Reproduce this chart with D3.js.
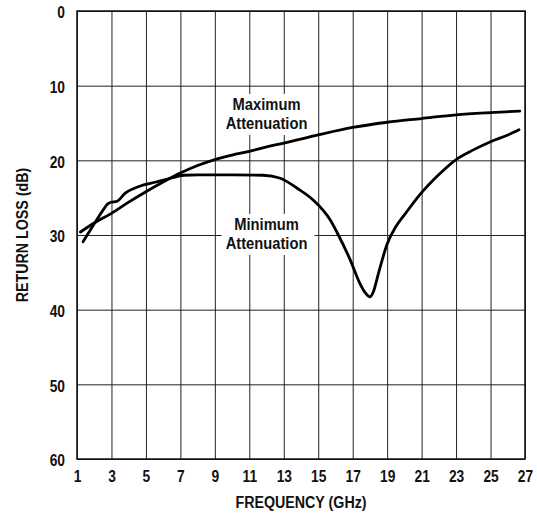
<!DOCTYPE html>
<html>
<head>
<meta charset="utf-8">
<script src="https://cdn.jsdelivr.net/npm/d3@7"></script>
<style>
  body { margin: 0; background: #fff; }
  text { font-family: "Liberation Sans", Arial, sans-serif; font-weight: bold; fill: #111; }
</style>
</head>
<body>
<div id="root"></div>
<script>

// frequency (GHz) / return loss (dB)
let maxFreq = [1.2, 2, 3, 4, 5, 6, 7, 8, 9, 10, 11, 12, 13, 15, 17, 19, 21, 23, 25, 26.7]
let maxLoss = [29.6, 28.4, 27.1, 25.6, 24.2, 22.9, 21.7, 20.7, 19.9, 19.3, 18.8, 18.2, 17.7, 16.6, 15.6, 14.9, 14.4, 13.9, 13.6, 13.4]

let minFreq = [1.35, 2, 2.5, 2.8, 3.0, 3.3, 3.8, 4.6, 5.6, 6.4, 7.2, 8, 10, 11.8, 12.8, 13.75, 14.7, 15.7, 16.1, 16.85, 17.4, 17.75, 18.0, 18.2, 18.5, 19.0, 19.5, 20.1, 20.9, 22.05, 23.0, 24.0, 25.0, 26.0, 26.65]
let minLoss = [30.9, 28.5, 26.7, 25.8, 25.6, 25.5, 24.4, 23.5, 22.9, 22.4, 22.0, 21.95, 21.95, 22.0, 22.4, 23.7, 25.3, 28.0, 29.7, 33.3, 36.4, 37.8, 38.3, 37.6, 35.1, 31.2, 28.9, 27.0, 24.6, 21.8, 19.9, 18.6, 17.5, 16.6, 15.9]

let xTicks = d3.range(1, 28, 2)
let yTicks = d3.range(0, 61, 10)

let labels = [
  {lines: ["Maximum", "Attenuation"], f: 12, db: 13.66},
  {lines: ["Minimum", "Attenuation"], f: 12, db: 29.73}
]

let width = 537, height = 521
let pLeft = 77, pTop = 11, pRight = 525, pBottom = 459

var svg = d3.select('#root').append('svg')
            .attr('width', width)
            .attr('height', height);

var x = d3.scaleLinear().domain([1, 27]).range([pLeft, pRight]);
var y = d3.scaleLinear().domain([0, 60]).range([pTop, pBottom]);

// squeeze text a bit, the original uses a condensed face
function condense(sel, k) {
  sel.each(function () {
    let w = this.getComputedTextLength();
    d3.select(this).attr('textLength', w * k).attr('lengthAdjust', 'spacingAndGlyphs');
  });
}

// grid + tick labels
svg.append('g')
   .attr('transform', 'translate(0,' + pBottom + ')')
   .call(d3.axisBottom(x).tickValues(xTicks).tickSize(-(pBottom - pTop)).tickPadding(12).tickFormat(d3.format('d')))
   .call(g => g.select('.domain').remove())
   .call(g => g.selectAll('line').attr('stroke', '#222').attr('stroke-width', 1))
   .call(g => g.selectAll('text').attr('font-size', 16).attr('font-family', null).call(condense, 0.86));

svg.append('g')
   .attr('transform', 'translate(' + pLeft + ',0)')
   .call(d3.axisLeft(y).tickValues(yTicks).tickSize(-(pRight - pLeft)).tickPadding(12))
   .call(g => g.select('.domain').remove())
   .call(g => g.selectAll('line').attr('stroke', '#222').attr('stroke-width', 1))
   .call(g => g.selectAll('text').attr('font-size', 16).attr('dy', '0.42em').attr('font-family', null).call(condense, 0.86));

// white boxes behind the curve labels
var lab = svg.selectAll('.lab')
             .data(labels)
             .enter().append('g')
             .attr('class', 'lab')
             .attr('transform', d => 'translate(' + x(d.f) + ',' + y(d.db) + ')');

lab.append('rect')
   .attr('x', -45).attr('y', -19)
   .attr('width', 93).attr('height', 41)
   .attr('fill', '#fff');

lab.selectAll('text')
   .data(d => d.lines)
   .enter().append('text')
   .attr('text-anchor', 'middle')
   .attr('font-size', 16)
   .attr('y', (d, i) => i * 19 - 3)
   .text(d => d)
   .call(condense, 0.92);

// frame
svg.append('rect')
   .attr('x', pLeft).attr('y', pTop)
   .attr('width', pRight - pLeft).attr('height', pBottom - pTop)
   .attr('fill', 'none')
   .attr('stroke', '#111')
   .attr('stroke-width', 1.5);

// curves
var line = d3.line()
             .x(d => x(d[0]))
             .y(d => y(d[1]))
             .curve(d3.curveMonotoneX);

[[maxFreq, maxLoss], [minFreq, minLoss]].forEach(function (s) {
  svg.append('path')
     .datum(d3.zip(s[0], s[1]))
     .attr('d', line)
     .attr('fill', 'none')
     .attr('stroke', '#000')
     .attr('stroke-width', 2.8)
     .attr('stroke-linecap', 'round')
     .attr('stroke-linejoin', 'round');
});

// axis titles
svg.append('text')
   .attr('x', (pLeft + pRight) / 2)
   .attr('y', 508)
   .attr('text-anchor', 'middle')
   .attr('font-size', 16)
   .text('FREQUENCY (GHz)')
   .call(condense, 0.89);

svg.append('text')
   .attr('transform', 'translate(28,' + ((pTop + pBottom) / 2) + ') rotate(-90)')
   .attr('text-anchor', 'middle')
   .attr('font-size', 16)
   .text('RETURN LOSS (dB)')
   .call(condense, 0.89);

</script>
</body>
</html>
